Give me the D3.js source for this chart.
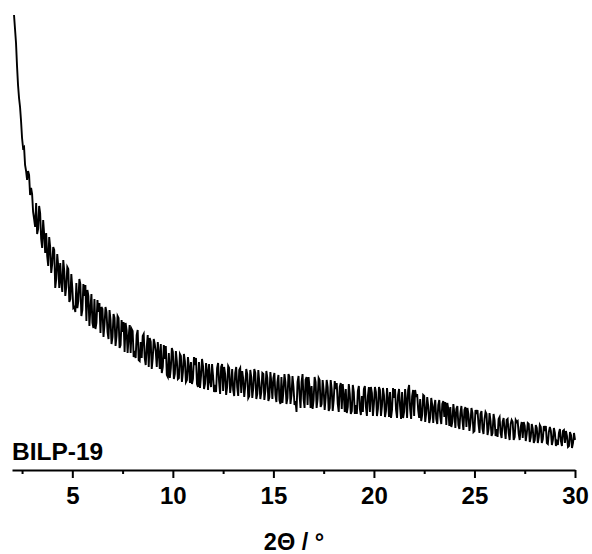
<!DOCTYPE html>
<html>
<head>
<meta charset="utf-8">
<script src="https://cdn.jsdelivr.net/npm/d3@7"></script>
<style>
  body { margin: 0; background: #fff; }
  svg text { font-family: "Liberation Sans", Arial, sans-serif; font-weight: bold; }
</style>
</head>
<body>
<svg id="chart"></svg>
<script>
// 2theta grid of the scan (degrees)
const thetaStart = 2.1;
const thetaStep = 0.05;

// intensity (a.u.), one value per grid step (one row = 1 degree)
const intensity = [
  455, 441, 427, 404, 385, 372, 363, 349, 332, 322, 323, 305, 299, 290, 299, 295, 275, 282, 276, 258,
  251, 243, 267, 236, 241, 264, 257, 231, 222, 250, 236, 217, 237, 214, 204, 233, 223, 197, 206, 223,
  220, 182, 191, 216, 204, 182, 207, 188, 178, 210, 199, 174, 183, 203, 201, 168, 171, 196, 182, 162,
  163, 158, 187, 162, 169, 191, 186, 154, 160, 186, 174, 185, 149, 180, 174, 144, 162, 176, 147, 142,
  171, 141, 147, 170, 158, 167, 137, 163, 161, 133, 145, 163, 158, 138, 131, 160, 150, 126, 133, 156,
  152, 124, 134, 154, 152, 122, 125, 150, 138, 148, 118, 147, 140, 117, 133, 145, 117, 141, 139, 113,
  119, 112, 135, 140, 110, 109, 128, 112, 134, 136, 112, 105, 123, 135, 103, 132, 128, 101, 112, 131,
  126, 118, 103, 128, 117, 101, 126, 97, 103, 125, 111, 124, 95, 93, 117, 92, 102, 122, 118, 91,
  96, 119, 109, 91, 92, 116, 114, 88, 98, 116, 109, 88, 90, 113, 103, 87, 108, 86, 91, 113,
  105, 112, 86, 83, 108, 82, 94, 111, 104, 81, 86, 107, 99, 80, 106, 89, 83, 106, 94, 78,
  85, 78, 102, 107, 88, 76, 103, 106, 79, 103, 96, 75, 83, 104, 102, 77, 86, 101, 80, 74,
  97, 103, 83, 74, 100, 102, 77, 99, 91, 73, 84, 101, 96, 72, 74, 100, 93, 72, 82, 101,
  97, 71, 76, 100, 88, 71, 78, 97, 96, 70, 79, 99, 92, 69, 73, 98, 87, 71, 92, 97,
  75, 68, 88, 95, 70, 66, 93, 67, 79, 96, 88, 66, 72, 96, 93, 66, 75, 94, 83, 65,
  69, 58, 88, 94, 75, 62, 88, 96, 71, 62, 90, 93, 65, 93, 82, 62, 84, 61, 70, 93,
  88, 62, 71, 92, 90, 63, 66, 90, 80, 60, 72, 90, 83, 59, 62, 90, 81, 59, 70, 89,
  81, 87, 66, 58, 83, 87, 61, 86, 75, 58, 81, 57, 63, 86, 76, 56, 59, 85, 78, 56,
  65, 56, 79, 84, 61, 55, 74, 58, 81, 84, 63, 54, 74, 83, 58, 83, 77, 54, 66, 83,
  78, 54, 61, 83, 80, 54, 64, 82, 75, 53, 59, 82, 71, 53, 78, 52, 60, 82, 72, 81,
  60, 52, 75, 81, 63, 51, 78, 52, 58, 81, 70, 52, 80, 85, 61, 51, 74, 80, 54, 80,
  73, 76, 60, 52, 71, 49, 55, 75, 74, 48, 57, 73, 64, 47, 52, 72, 65, 47, 63, 70,
  51, 46, 65, 70, 53, 46, 66, 69, 53, 68, 45, 67, 61, 44, 63, 43, 48, 66, 57, 42,
  61, 64, 45, 41, 57, 64, 50, 40, 60, 63, 43, 62, 56, 39, 47, 62, 57, 38, 39, 60,
  56, 60, 46, 37, 56, 59, 41, 36, 51, 58, 56, 35, 41, 57, 49, 34, 37, 56, 50, 34,
  41, 33, 51, 53, 37, 32, 48, 52, 40, 31, 50, 51, 37, 30, 46, 50, 48, 30, 33, 50,
  48, 49, 36, 30, 43, 48, 32, 48, 44, 29, 36, 47, 46, 28, 33, 46, 41, 27, 30, 45,
  42, 27, 33, 45, 43, 27, 31, 44, 39, 44, 27, 26, 38, 43, 39, 25, 30, 42, 37, 24,
  28, 25, 37, 41, 29, 24, 39, 40, 27, 39, 34, 23, 24, 38, 35, 22, 27, 37, 30
];

const majorTicks = [5, 10, 15, 20, 25, 30];
const minorTicks = [2.5, 7.5, 12.5, 17.5, 22.5, 27.5];
const sampleName = 'BILP-19';
const xTitle = '2\u0398 / \u00b0';

const width = 592;
const height = 554;

const data = intensity.map((v, i) => {
  return { theta: thetaStart + i * thetaStep, value: v };
});

let x = d3.scaleLinear()
  .domain([2, 30])
  .range([12, 575]);

let y = d3.scaleLinear()
  .domain([0, 460])
  .range([470, 10]);

const svg = d3.select('#chart')
  .attr('width', width)
  .attr('height', height);

svg.append('path')
  .datum(data)
  .attr('fill', 'none')
  .attr('stroke', '#000')
  .attr('stroke-width', 1.9)
  .attr('d', d3.line().x(d => x(d.theta)).y(d => y(d.value)));

// bottom axis, major ticks with labels
let xAxis = d3.axisBottom(x)
  .tickValues(majorTicks)
  .tickSize(8)
  .tickSizeOuter(0)
  .tickPadding(9);

const axis = svg.append('g')
  .attr('transform', 'translate(0,470)')
  .call(xAxis);

axis.select('.domain').attr('stroke-width', 2.2);
axis.selectAll('.tick line').attr('stroke-width', 2);
axis.selectAll('.tick text')
  .attr('font-size', 24)
  .attr('font-family', '"Liberation Sans", Arial, sans-serif')
  .attr('font-weight', 'bold')
  .attr('fill', '#000');

// minor ticks
svg.append('g')
  .attr('transform', 'translate(0,470)')
  .call(d3.axisBottom(x).tickValues(minorTicks).tickSize(4).tickFormat(''))
  .call(g => g.select('.domain').remove())
  .selectAll('.tick line').attr('stroke-width', 2);

svg.append('text')
  .attr('x', 12)
  .attr('y', 460)
  .attr('font-size', 24.5)
  .text(sampleName);

svg.append('text')
  .attr('x', 294)
  .attr('y', 550)
  .attr('text-anchor', 'middle')
  .attr('font-size', 23.5)
  .text(xTitle);
</script>
</body>
</html>
